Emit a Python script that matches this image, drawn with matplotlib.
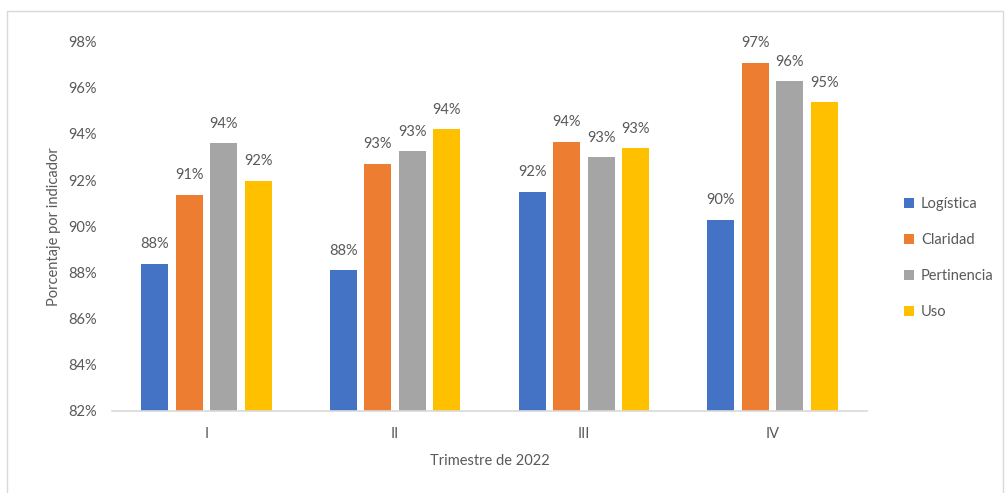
import numpy as np
import matplotlib
matplotlib.use("Agg")
import matplotlib.pyplot as plt
from matplotlib.patches import Rectangle

# %% Data
quarters = ["I", "II", "III", "IV"]
series_names = ["Logística", "Claridad", "Pertinencia", "Uso"]
logistica = [88.37, 88.08, 91.50, 90.28]
claridad = [91.37, 92.70, 93.66, 97.09]
pertinencia = [93.59, 93.26, 92.98, 96.29]
uso = [91.98, 94.20, 93.39, 95.38]
colors = ["#4472C4", "#ED7D31", "#A5A5A5", "#FFC000"]

plt.rcParams['font.family'] = ['Lato', 'DejaVu Sans']
text_color = "#595959"
fs = 10.5

# %% Plot
fig = plt.figure(figsize=(10.05, 4.93), dpi=100)
ax = fig.add_axes([0.1114, 0.167, 0.7513, 0.7484])

# light frame around the chart area
fig.patches.append(Rectangle((7 / 1005, -0.02), 996 / 1005, 1.02 - 11 / 493,
                             transform=fig.transFigure, fill=False,
                             edgecolor="#D9D9D9", linewidth=1))

x = np.arange(len(quarters))
pitch = 0.1825
width = 0.143
all_series = [logistica, claridad, pertinencia, uso]
for i, (vals, name, color) in enumerate(zip(all_series, series_names, colors)):
    pos = x + (i - 1.5) * pitch
    ax.bar(pos, np.array(vals) - 82, width=width, bottom=82,
           color=color, label=name)
    for xp, v in zip(pos, vals):
        ax.annotate(f"{round(v)}%", (xp, v), xytext=(0, 9),
                    textcoords="offset points", ha="center", va="bottom",
                    fontsize=fs, color=text_color)

ax.set_xlim(-0.5, 3.5)
ax.set_ylim(82, 98)
ax.set_yticks(np.arange(82, 99, 2))
ax.set_yticklabels([f"{t}%" for t in range(82, 99, 2)])
ax.set_xticks(x)
ax.set_xticklabels(quarters)
ax.tick_params(axis="both", length=0, labelsize=fs, labelcolor=text_color)
ax.tick_params(axis="y", pad=11)
ax.tick_params(axis="x", pad=12)

for side in ["top", "right", "left"]:
    ax.spines[side].set_visible(False)
ax.spines["bottom"].set_color("#D9D9D9")
ax.spines["bottom"].set_linewidth(1.2)

ax.set_ylabel("Porcentaje por indicador", fontsize=fs, color=text_color, labelpad=5)
ax.set_xlabel("Trimestre de 2022", fontsize=fs, color=text_color, labelpad=9)

leg = ax.legend(loc="center left", bbox_to_anchor=(1.031, 0.414), frameon=False,
                fontsize=fs, handlelength=0.7, handleheight=0.7,
                handletextpad=0.5, labelspacing=1.5)
for t in leg.get_texts():
    t.set_color(text_color)

fig.savefig("out.png", dpi=100)
